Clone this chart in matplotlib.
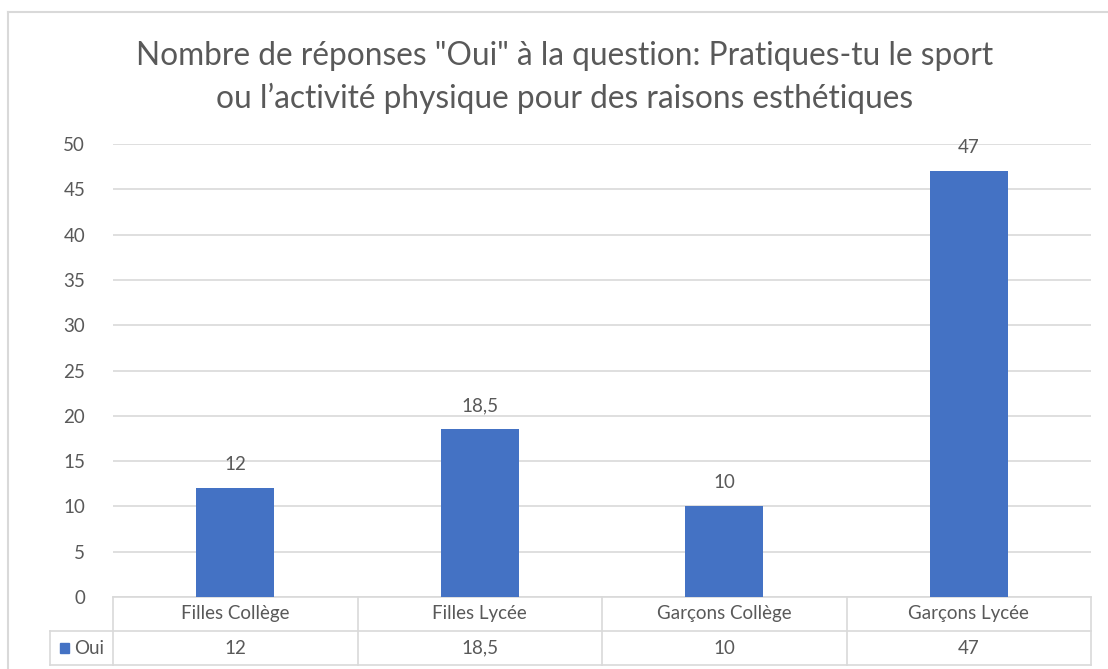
import matplotlib
matplotlib.use("Agg")
import matplotlib.pyplot as plt
from matplotlib.lines import Line2D
from matplotlib.patches import Rectangle

categories = ["Filles Collège", "Filles Lycée", "Garçons Collège", "Garçons Lycée"]
values = [12, 18.5, 10, 47]
value_labels = ["12", "18,5", "10", "47"]
series_name = "Oui"
yticks = [0, 5, 10, 15, 20, 25, 30, 35, 40, 45, 50]
title = 'Nombre de réponses "Oui" à la question: Pratiques-tu le sport\nou l\u2019activité physique pour des raisons esthétiques'

plt.rcParams['font.family'] = ['Lato', 'DejaVu Sans']
TXT = '#595959'
GRID = '#d9d9d9'
BAR = '#4472c4'
FS = 13.5

W, H = 1108, 669
fig = plt.figure(figsize=(W / 100, H / 100), dpi=100)
ax = fig.add_axes([113 / W, 1 - 597 / H, (1091 - 113) / W, (597 - 144) / H])

x = list(range(len(categories)))
ax.bar(x, values, width=0.32, color=BAR, zorder=3)
ax.set_xlim(-0.5, len(categories) - 0.5)
ax.set_ylim(0, 50)
ax.set_yticks(yticks)
ax.set_yticklabels([str(t) for t in yticks], fontsize=FS, color=TXT)
ax.tick_params(axis='y', length=0, pad=20)
ax.set_xticks([])
for s in ax.spines.values():
    s.set_visible(False)
ax.yaxis.grid(True, color=GRID, linewidth=1.2, zorder=0)

for xi, v, lab in zip(x, values, value_labels):
    ax.annotate(lab, (xi, v), xytext=(0, 17), textcoords='offset points',
                ha='center', va='center', fontsize=FS, color=TXT)

# data table below axes
ah = 597 - 144
rh = 34 / ah
left_col = -63 / (1091 - 113)
tr = ax.get_xaxis_transform()
ta = ax.transAxes
lw = 1.2
ax.add_line(Line2D([-0.5, 3.5], [0, 0], transform=tr, color=GRID, lw=lw, clip_on=False))
ax.add_line(Line2D([left_col, 1], [-rh, -rh], transform=ta, color=GRID, lw=lw, clip_on=False))
ax.add_line(Line2D([left_col, 1], [-2 * rh, -2 * rh], transform=ta, color=GRID, lw=lw, clip_on=False))
for b in [-0.5, 0.5, 1.5, 2.5, 3.5]:
    ax.add_line(Line2D([b, b], [0, -2 * rh], transform=tr, color=GRID, lw=lw, clip_on=False))
ax.add_line(Line2D([left_col, left_col], [-rh, -2 * rh], transform=ta, color=GRID, lw=lw, clip_on=False))

for xi, c, lab in zip(x, categories, value_labels):
    ax.text(xi, -0.5 * rh, c, transform=tr, ha='center', va='center', fontsize=FS, color=TXT)
    ax.text(xi, -1.5 * rh, lab, transform=tr, ha='center', va='center', fontsize=FS, color=TXT)

ax.add_patch(Rectangle((left_col + 10 / 978, -1.5 * rh - 5 / ah), 9 / 978, 10 / ah,
                       transform=ta, color=BAR, clip_on=False))
ax.text(left_col + 24 / 978, -1.5 * rh, series_name, transform=ta, ha='left', va='center',
        fontsize=FS, color=TXT)

fig.suptitle(title, x=565 / W, y=1 - 41 / H, ha='center', va='top', fontsize=22.8,
             color=TXT, linespacing=1.47)

fig.add_artist(Line2D([8 / W, 8 / W], [0, 1 - 12 / H], transform=fig.transFigure, color=GRID, lw=1.5))
fig.add_artist(Line2D([8 / W, 1], [1 - 12 / H, 1 - 12 / H], transform=fig.transFigure, color=GRID, lw=1.5))

fig.savefig("out.png", dpi=100, facecolor='white')
